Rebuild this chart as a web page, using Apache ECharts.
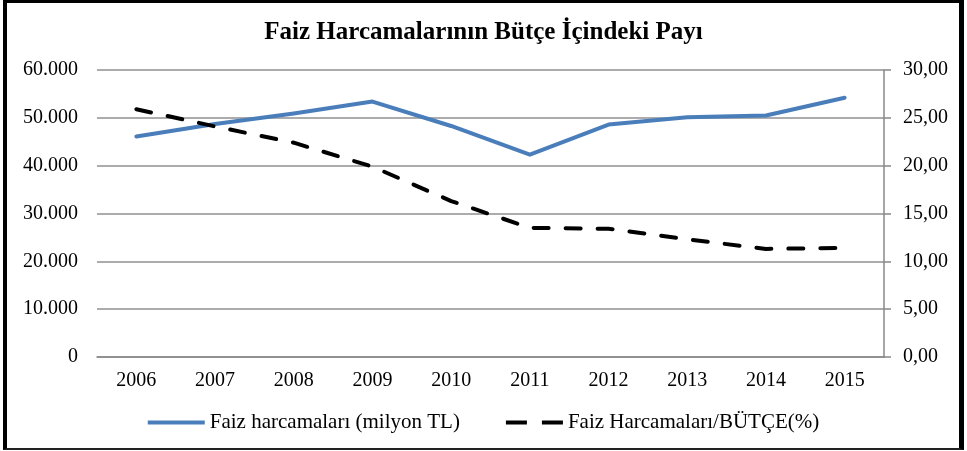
<!DOCTYPE html>
<html>
<head>
<meta charset="utf-8">
<script src="https://cdn.jsdelivr.net/npm/echarts@6/dist/echarts.min.js"></script>
<style>
html,body{margin:0;padding:0;background:#fff;}
#chart{position:absolute;left:0;top:0;width:967px;height:451px;}
#frame{position:absolute;left:3px;top:0;width:961px;height:450px;box-sizing:border-box;
border-left:4px solid #000;border-right:5px solid #000;border-top:3px solid #000;border-bottom:2px solid #222;pointer-events:none;}
</style>
</head>
<body>
<div id="chart"></div>
<div id="frame"></div>
<script>
const titleText = 'Faiz Harcamalarının Bütçe İçindeki Payı';
const years = ['2006','2007','2008','2009','2010','2011','2012','2013','2014','2015'];
const faizHarcamalari = [46100, 48700, 50900, 53400, 48300, 42300, 48600, 50100, 50500, 54200];
const faizButcePay = [25.9, 24.1, 22.4, 19.9, 16.3, 13.5, 13.4, 12.3, 11.3, 11.4];
const seriesNames = ['Faiz harcamaları (milyon TL)', 'Faiz Harcamaları/BÜTÇE(%)'];

const font = '"Liberation Serif", "Times New Roman", serif';
const chart = echarts.init(document.getElementById('chart'), null, {renderer: 'canvas'});

function fmtLeft(v){
  if (v === 0) return '0';
  return v.toString().replace(/\B(?=(\d{3})+(?!\d))/g, '.');
}
function fmtRight(v){
  return v.toFixed(2).replace('.', ',');
}

chart.setOption({
  animation: false,
  textStyle: {fontFamily: font},
  title: {
    text: titleText,
    left: 'center',
    top: 15,
    textStyle: {fontFamily: font, fontSize: 25, fontWeight: 'bold', color: '#000'}
  },
  grid: {left: 97, right: 83, top: 70, bottom: 94, containLabel: false},
  legend: {
    bottom: 13,
    left: 'center',
    itemWidth: 57,
    itemHeight: 4,
    itemGap: 46,
    textStyle: {fontFamily: font, fontSize: 21, color: '#000'},
    data: [
      {name: seriesNames[0], icon: 'rect', itemStyle: {color: '#4a7ebb'}},
      {name: seriesNames[1], icon: 'path://M0,0h21v4h-21z M36,0h21v4h-21z', itemStyle: {color: '#000'}}
    ]
  },
  xAxis: {
    type: 'category',
    data: years,
    boundaryGap: true,
    axisLine: {show: true, lineStyle: {color: '#888', width: 1.5}},
    axisTick: {show: false},
    axisLabel: {fontFamily: font, fontSize: 20, color: '#000', margin: 14}
  },
  yAxis: [
    {
      type: 'value', min: 0, max: 60000, interval: 10000, position: 'left',
      axisLine: {show: false}, axisTick: {show: false},
      axisLabel: {fontFamily: font, fontSize: 20, color: '#000', margin: 19, formatter: fmtLeft},
      splitLine: {show: true, lineStyle: {color: '#909090', width: 1.5}}
    },
    {
      type: 'value', min: 0, max: 30, interval: 5, position: 'right',
      axisLine: {show: true, lineStyle: {color: '#888', width: 1.5}},
      axisTick: {show: true, inside: false, length: 7, lineStyle: {color: '#888', width: 1.5}},
      axisLabel: {fontFamily: font, fontSize: 20, color: '#000', margin: 19, formatter: fmtRight},
      splitLine: {show: false}
    }
  ],
  series: [
    {
      name: seriesNames[0], type: 'line', yAxisIndex: 0, data: faizHarcamalari,
      symbol: 'none', smooth: false,
      itemStyle: {color: '#4a7ebb'},
      lineStyle: {color: '#4a7ebb', width: 4, cap: 'round', join: 'round'}
    },
    {
      name: seriesNames[1], type: 'line', yAxisIndex: 1, data: faizButcePay,
      symbol: 'none', smooth: false,
      itemStyle: {color: '#000'},
      lineStyle: {color: '#000', width: 4, type: [15, 17], cap: 'round', join: 'round'}
    }
  ]
});
</script>
</body>
</html>
